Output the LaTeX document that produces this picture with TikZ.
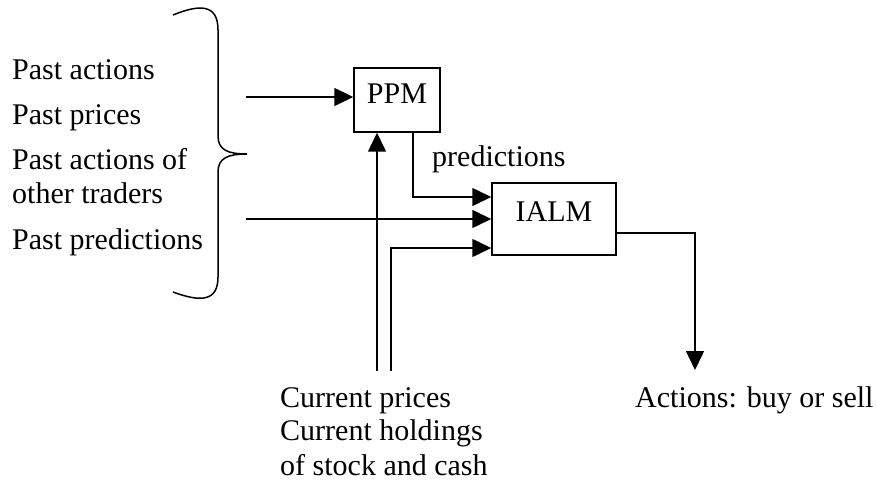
\documentclass[tikz,border=0pt]{standalone}
\usepackage{fontspec}
\setmainfont{Liberation Serif}
\usetikzlibrary{arrows.meta}
\begin{document}
\begin{tikzpicture}[x=1pt,y=-1pt,
  txt/.style={anchor=base west,inner sep=0pt,font=\fontsize{30}{34.5}\selectfont},
  boxnode/.style={draw,line width=1.5pt,inner sep=0pt,font=\fontsize{30}{34.5}\selectfont},
  arr/.style={line width=1.5pt,-{Triangle[length=19pt,width=18pt]}},
  ln/.style={line width=1.5pt}]
\useasboundingbox (0,0) rectangle (877,481);
% left texts
\node[txt] (t1) at (12,80) {Past actions};
\node[txt] (t2) at (12,125) {Past prices};
\node[txt] (t3) at (12,170) {Past actions of};
\node[txt] (t4) at (12,204) {other traders};
\node[txt] (t5) at (12,249) {Past predictions};
% brace
\draw[ln] (173,15) .. controls (200,4) and (218,4) .. (218,30) -- (218,136)
  .. controls (218,150) and (228,154) .. (247,154)
  .. controls (228,154) and (218,158) .. (218,172) -- (218,277)
  .. controls (218,302) and (200,302) .. (173,292);
% boxes
\node[boxnode,minimum width=86pt,text height=36pt,text depth=28pt] (ppm) at (397,100) {PPM};
\node[boxnode,minimum width=124pt,text height=38.3pt,text depth=34pt] (ialm) at (554,219) {IALM};
% labels
\node[txt] (pred) at (432,167) {predictions};
\node[txt] (cur1) at (280,407) {Current prices};
\node[txt] (cur2) at (280,440) {Current holdings};
\node[txt] (cur3) at (280,475) {of stock and cash};
\node[txt] (act) at (635,407) {Actions: buy or sell};
% connectors
\coordinate (in1) at (246,97);
\draw[arr] (in1) -- (in1 -| ppm.west);
\coordinate (cp) at (377,371);
\draw[arr] (cp) -- (cp |- ppm.south);
\coordinate (pd) at (413,197);
\draw[arr] (pd |- ppm.south) -- (pd) -- (pd -| ialm.west);
\coordinate (in2) at (246,219);
\draw[arr] (in2) -- (in2 -| ialm.west);
\coordinate (ch) at (391,371);
\coordinate (chc) at (391,248);
\draw[arr] (ch) -- (chc) -- (chc -| ialm.west);
\coordinate (oc) at (695,233);
\coordinate (oe) at (695,370);
\draw[arr] (oc -| ialm.east) -- (oc) -- (oe);
\end{tikzpicture}
\end{document}
